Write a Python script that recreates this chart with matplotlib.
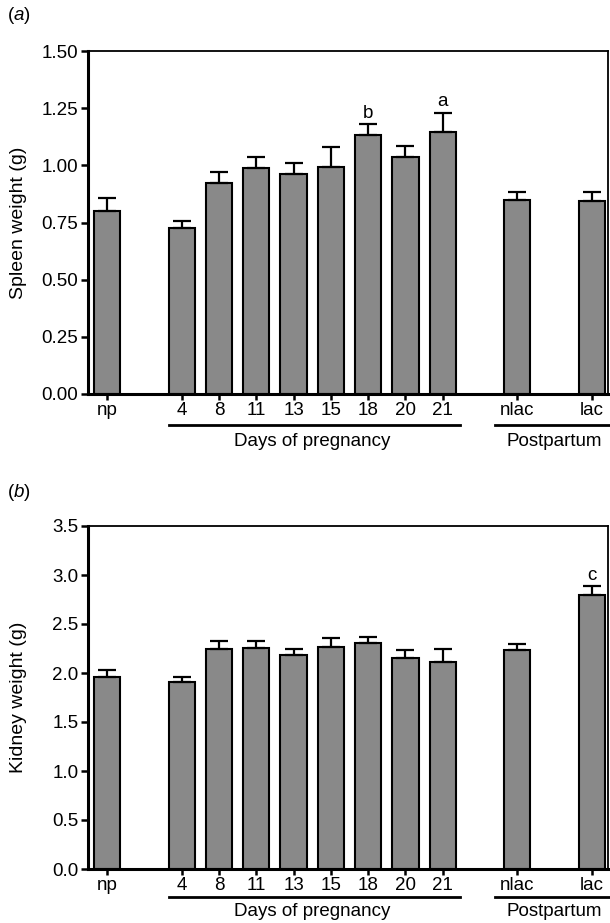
import matplotlib.pyplot as plt
import numpy as np

plt.rcParams['font.family'] = ['Liberation Sans', 'DejaVu Sans']
plt.rcParams['mathtext.fontset'] = 'custom'
plt.rcParams['mathtext.it'] = 'Liberation Sans:italic'
plt.rcParams['mathtext.rm'] = 'Liberation Sans'

groups = ['np', '4', '8', '11', '13', '15', '18', '20', '21', 'nlac', 'lac']

spleen = [0.80, 0.728, 0.924, 0.988, 0.961, 0.993, 1.134, 1.038, 1.145, 0.849, 0.843]
spleen_err = [0.058, 0.028, 0.045, 0.050, 0.048, 0.088, 0.046, 0.045, 0.086, 0.033, 0.042]
spleen_marks = {'18': 'b', '21': 'a'}

kidney = [1.959, 1.911, 2.243, 2.253, 2.179, 2.264, 2.308, 2.148, 2.111, 2.233, 2.796]
kidney_err = [0.074, 0.048, 0.085, 0.075, 0.064, 0.091, 0.061, 0.089, 0.136, 0.061, 0.088]
kidney_marks = {'lac': 'c'}

# np, gap, 8 days, gap, nlac, gap, lac
xpos = np.array([0] + [2 + i for i in range(8)] + [11, 13])

fs = 13.5
fig = plt.figure(figsize=(6.10, 9.23), dpi=100)


def panel(rect, vals, errs, marks, ylim, yticks, yfmt, ylabel, tag, tag_y, line_off, text_off):
    ax = fig.add_axes(rect)
    ax.bar(xpos, vals, width=0.70, color='#898989', edgecolor='black', linewidth=1.5, zorder=2)
    ax.errorbar(xpos, vals, yerr=[np.zeros(len(vals)), errs], fmt='none', ecolor='black',
                elinewidth=1.6, capsize=6.8, capthick=1.6, zorder=3)
    for g, m in marks.items():
        i = groups.index(g)
        ax.text(xpos[i], vals[i] + errs[i] + (ylim[1] * 0.006), m, ha='center', va='bottom', fontsize=fs)
    ax.set_xlim(-0.51, 13.43)
    ax.set_ylim(*ylim)
    ax.set_yticks(yticks)
    ax.set_yticklabels([yfmt.format(t) for t in yticks], fontsize=fs)
    ax.set_xticks(xpos)
    ax.set_xticklabels(groups, fontsize=fs)
    ax.tick_params(axis='y', direction='out', length=5, width=1.8, pad=2)
    ax.tick_params(axis='x', direction='out', length=4, width=1.8, pad=1.5)
    ax.spines['left'].set_linewidth(2.2)
    ax.spines['bottom'].set_linewidth(2.2)
    ax.spines['top'].set_linewidth(1.3)
    ax.spines['right'].set_linewidth(1.3)
    ax.set_ylabel(ylabel, fontsize=fs + 0.5)
    ax.yaxis.set_label_coords(-0.118, 0.5)
    h = rect[3] * 923
    tr = ax.get_xaxis_transform()
    ax.plot([xpos[1] - 0.35, xpos[8] + 0.45], [-line_off / h, -line_off / h], color='black', lw=2,
            transform=tr, clip_on=False)
    ax.plot([xpos[9] - 0.6, xpos[10] + 0.6], [-line_off / h, -line_off / h], color='black', lw=2,
            transform=tr, clip_on=False)
    ax.text((xpos[1] + xpos[8]) / 2, -text_off / h, 'Days of pregnancy', transform=tr,
            ha='center', va='center', fontsize=fs)
    ax.text((xpos[9] + xpos[10]) / 2, -text_off / h, 'Postpartum', transform=tr,
            ha='center', va='center', fontsize=fs)
    fig.text(0.011, tag_y, '(' + r'$\it{' + tag + '}$' + ')', fontsize=fs, ha='left', va='center')
    return ax


ax1 = panel([88 / 610, 1 - 394 / 923, 520 / 610, 343 / 923], spleen, spleen_err, spleen_marks,
            (0, 1.5), [0, 0.25, 0.5, 0.75, 1.0, 1.25, 1.5], '{:.2f}', 'Spleen weight (g)', 'a',
            1 - 15 / 923, 31, 47)
ax2 = panel([88 / 610, 1 - 869 / 923, 520 / 610, 343 / 923], kidney, kidney_err, kidney_marks,
            (0, 3.5), [0, 0.5, 1.0, 1.5, 2.0, 2.5, 3.0, 3.5], '{:.1f}', 'Kidney weight (g)', 'b',
            1 - 493 / 923, 28, 43)

plt.savefig('out.png', dpi=100)
